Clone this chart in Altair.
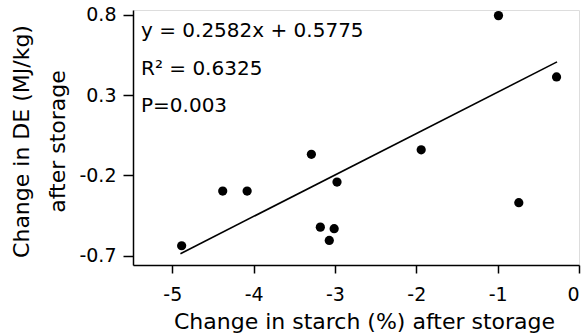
import altair as alt
import pandas as pd

# Data
starch_change = [-4.885, -4.38, -4.08, -3.29, -2.975, -3.18, -3.01, -3.07, -1.94, -0.99, -0.74, -0.276]
de_change = [-0.638, -0.297, -0.297, -0.068, -0.241, -0.522, -0.532, -0.605, -0.04, 0.796, -0.37, 0.414]

slope = 0.2582
intercept = 0.5775
line_x = [-4.9, -0.27]
line_y = [slope * v + intercept for v in line_x]

x_ticks = [-5, -4, -3, -2, -1, 0]
y_ticks = [0.8, 0.3, -0.2, -0.7]

annotations = ["y = 0.2582x + 0.5775", "R² = 0.6325", "P=0.003"]
ann_y = [0.661, 0.424, 0.195]

FONT = "DejaVu Sans"

pts = pd.DataFrame({"x": starch_change, "y": de_change})
reg = pd.DataFrame({"x": line_x, "y": line_y})
ann = pd.DataFrame({"text": annotations, "y": ann_y})

xscale = alt.Scale(domain=[-5.483, 0.0], nice=False, zero=False)
yscale = alt.Scale(domain=[-0.758, 0.831], nice=False, zero=False)

xaxis = alt.Axis(
    values=x_ticks, format="d", grid=False,
    labelExpr="replace(datum.label, '\u2212', '-')",
    title="Change in starch (%) after storage",
    titleFont=FONT, titleFontSize=22, titleFontWeight="normal", titleColor="black",
    titleX=231, titleY=63, titleBaseline="alphabetic", titleAnchor="start", titleAlign="center",
    labelFont=FONT, labelFontSize=19, labelColor="black", labelPadding=12,
    tickSize=8, tickColor="black", tickWidth=1.5,
    domainColor="black", domainWidth=1.5,
)
yaxis = alt.Axis(
    values=y_ticks, format=".1f", grid=False,
    labelExpr="replace(datum.label, '\u2212', '-')",
    title=["Change in DE (MJ/kg)", "after storage"],
    titleFont=FONT, titleFontSize=22, titleFontWeight="normal", titleColor="black",
    titleAngle=270, titleX=-105, titleY=131, titleBaseline="alphabetic", titleAlign="center",
    titleLineHeight=36,
    labelFont=FONT, labelFontSize=19, labelColor="black", labelPadding=7,
    tickSize=10, tickColor="black", tickWidth=1.5,
    domainColor="black", domainWidth=1.5,
)

base_x = alt.X("x:Q", scale=xscale, axis=xaxis)
base_y = alt.Y("y:Q", scale=yscale, axis=yaxis)

points = alt.Chart(pts).mark_circle(size=85, color="black", opacity=1).encode(x=base_x, y=base_y)
line = alt.Chart(reg).mark_line(color="black", strokeWidth=1.6).encode(x=alt.X("x:Q", scale=xscale), y=alt.Y("y:Q", scale=yscale))
text = alt.Chart(ann).mark_text(
    align="left", baseline="alphabetic", font=FONT, fontSize=20, color="black"
).encode(x=alt.value(8), y=alt.Y("y:Q", scale=yscale), text="text:N")

chart = alt.layer(points, line, text).properties(
    width=446, height=255,
    padding={"left": 133, "top": 10, "right": 3, "bottom": 70},
    autosize=alt.AutoSizeParams(type="none"),
).configure_view(stroke=None).configure(background="white")

chart.save("out.html", embed_options={"renderer": "svg", "actions": False})
